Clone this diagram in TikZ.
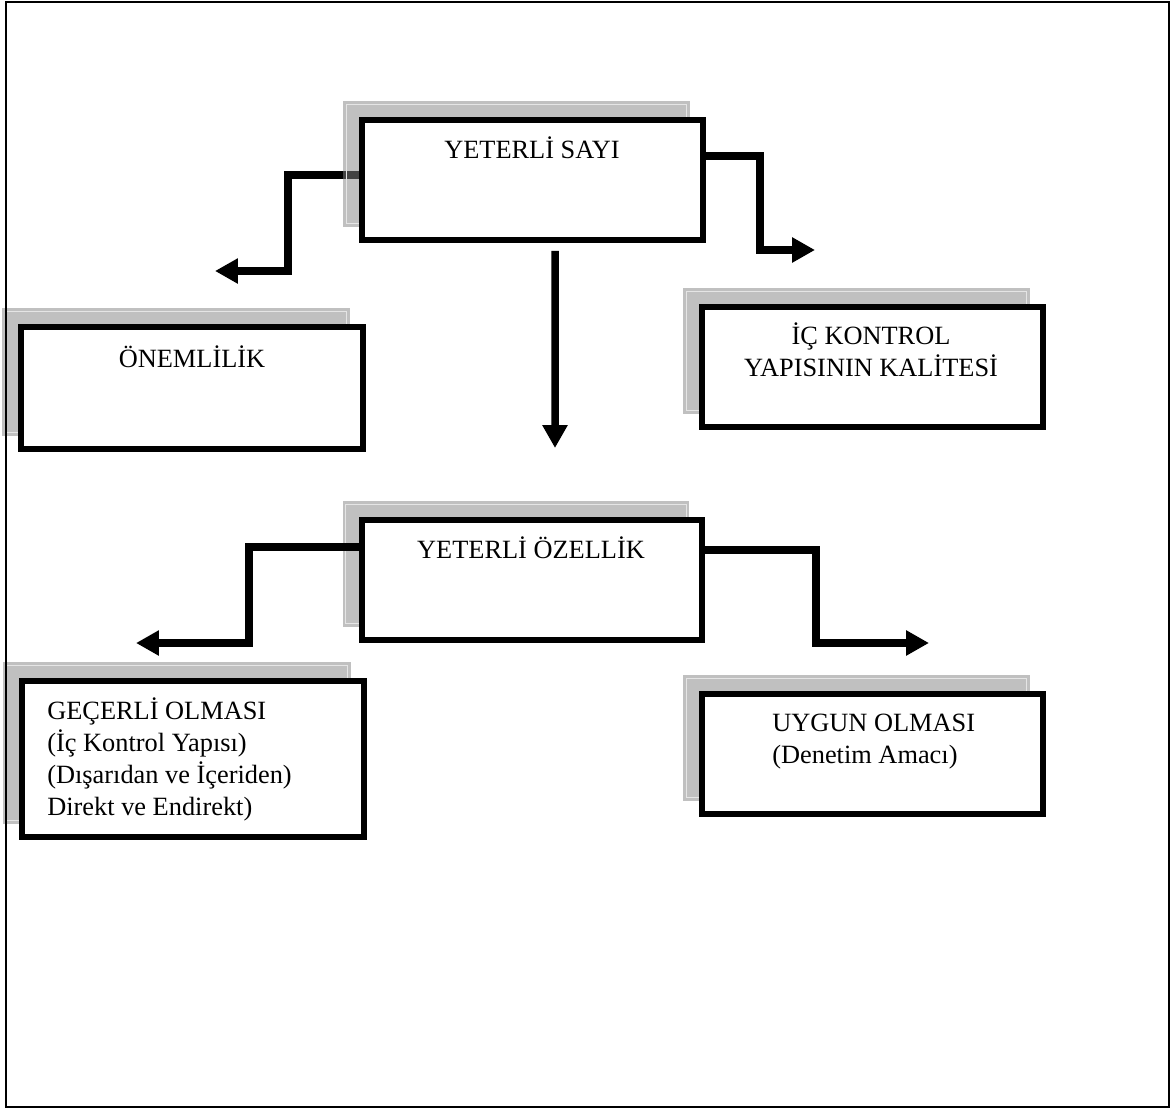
\documentclass[tikz,border=0pt]{standalone}
\usepackage{fontspec}
\setmainfont{Liberation Serif}
\usetikzlibrary{arrows.meta}
\definecolor{golgegri}{RGB}{132,132,132}
\pgfdeclarelayer{alt}
\pgfdeclarelayer{golge}
\pgfsetlayers{alt,golge,main}

\begin{document}
\begin{tikzpicture}[x = 0.02cm , y = -0.02cm ,
    kutu/.style = {draw , fill = white , line width = 0.12cm , inner sep = 0pt , outer sep = 0pt , minimum width = 6.82cm , minimum height = 2.4cm},
    yazi/.style = {font = \fontsize{15}{18.2}\selectfont , inner sep = 0pt},
    ok/.style = {line width = 0.15cm , -{Triangle[length = 0.46cm , width = 0.48cm]}},
    golge/.style = {fill = golgegri , fill opacity = 0.51},
    ince/.style = {draw = white!90!black , line width = 0.02cm}]
    \useasboundingbox (0,0) rectangle (1173,1109);

    % Kutular
    \node[kutu] (sayi) at (532.5,180) {};
    \node[kutu , minimum width = 6.84cm , minimum height = 2.44cm] (onem) at (192,388) {};
    \node[kutu] (ickontrol) at (872.5,367) {};
    \node[kutu] (ozellik) at (532,580) {};
    \node[kutu , minimum width = 6.84cm , minimum height = 3.12cm] (gecerli) at (193,759) {};
    \node[kutu] (uygun) at (872.5,754) {};

    % Yazilar (cok satirlilarda base = son satir)
    \node[yazi , anchor = base] (sayiyazi) at (532,158) {YETERLİ SAYI};
    \node[yazi , anchor = base] (onemyazi) at (192,367) {ÖNEMLİLİK};
    \node[yazi , anchor = base , align = center] (icyazi) at (871,376) {İÇ KONTROL\\YAPISININ KALİTESİ};
    \node[yazi , anchor = base] (ozellikyazi) at (531,558) {YETERLİ ÖZELLİK};
    \node[yazi , anchor = base west , align = left] (gecerliyazi) at (47,815) {GEÇERLİ OLMASI\\(İç Kontrol Yapısı)\\(Dışarıdan ve İçeriden)\\Direkt ve Endirekt)};
    \node[yazi , anchor = base west , align = left] (uygunyazi) at (772,763) {UYGUN OLMASI\\(Denetim Amacı)};

    % Golgeler
    \begin{pgfonlayer}{golge}
        \foreach \k in {sayi,onem,ickontrol,ozellik,gecerli,uygun} {
            \fill[golge] ([shift = {(-19,-19)}]\k.north west) rectangle ([shift = {(-13,-13)}]\k.south east);
            \draw[ince] ([shift = {(-16,-16)}]\k.north west) rectangle ([shift = {(-16,-16)}]\k.south east);
        }
    \end{pgfonlayer}

    % Oklar
    \coordinate (sol1) at (215,271);
    \coordinate (sag1) at (815,250);
    \coordinate (alt1) at (555,448);
    \coordinate (sol2) at (136,643);
    \coordinate (sag2) at (929,643);
    \begin{pgfonlayer}{alt}
        \draw[ok] ([yshift = 0.1cm]sayi.west) -| (288,271) -- (sol1); % golgenin altinda
    \end{pgfonlayer}
    \draw[ok] ([yshift = 0.48cm]sayi.east) -| (760,250) -- (sag1);
    \draw[ok] ([xshift = 0.45cm , yshift = -0.22cm]sayi.south) -- (alt1);
    \draw[ok] ([yshift = 0.66cm]ozellik.west) -| (249,643) -- (sol2);
    \draw[ok] ([yshift = 0.6cm]ozellik.east) -| (816,643) -- (sag2);

    % Cerceve
    \draw[line width = 0.04cm] (6,1.5) rectangle (1169,1106.5);
\end{tikzpicture}
\end{document}
